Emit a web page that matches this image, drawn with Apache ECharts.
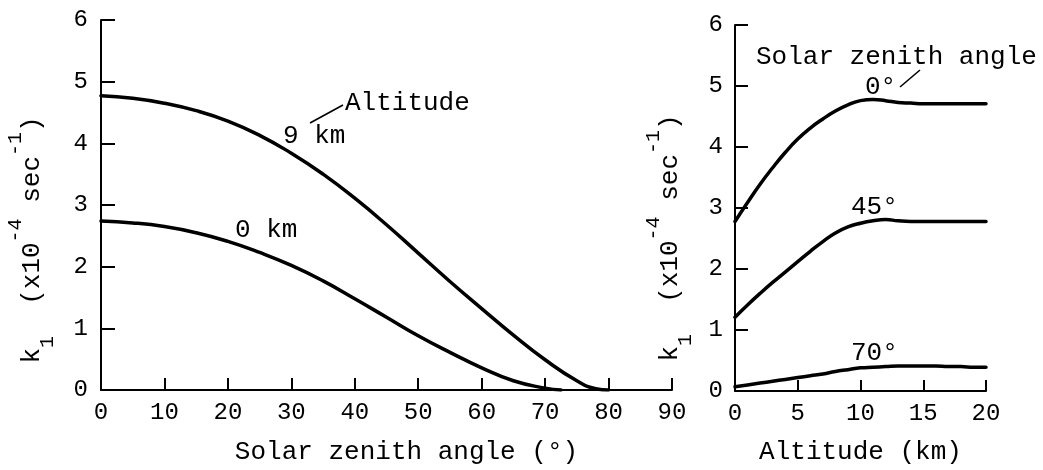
<!DOCTYPE html>
<html>
<head>
<meta charset="utf-8">
<script src="https://cdn.jsdelivr.net/npm/echarts@6/dist/echarts.min.js"></script>
<style>
  html, body { margin: 0; padding: 0; background: #fff; }
  #chart { width: 1043px; height: 470px; }
</style>
</head>
<body>
<div id="chart"></div>
<script>
// Photolysis rate k1 versus solar zenith angle (left) and versus altitude (right)

// Left panel: solar zenith angle (deg) and k1 (x10^-4 s^-1)
const zenithAngles9km = [0, 5, 10, 15, 20, 25, 30, 35, 40, 45, 50, 55, 60, 65, 70, 75, 78, 80];
const k1At9km = [4.77, 4.73, 4.65, 4.53, 4.36, 4.13, 3.84, 3.50, 3.11, 2.68, 2.22, 1.76, 1.32, 0.89, 0.49, 0.15, 0.02, 0.0];
const zenithAngles0km = [0, 5, 10, 15, 20, 25, 30, 35, 40, 45, 50, 55, 60, 65, 70, 72.5];
const k1At0km = [2.74, 2.71, 2.65, 2.55, 2.41, 2.23, 2.02, 1.77, 1.48, 1.18, 0.88, 0.61, 0.36, 0.15, 0.03, 0.0];

// Right panel: altitude (km) and k1 for three zenith angles
const altitudesKm = [0, 1, 2, 3, 4, 5, 6, 7, 8, 9, 10, 11, 12, 13, 14, 15, 16, 17, 18, 19, 20];
const k1Zenith0 = [2.78, 3.09, 3.39, 3.66, 3.91, 4.13, 4.31, 4.46, 4.59, 4.69, 4.76, 4.78, 4.76, 4.73, 4.72, 4.71, 4.71, 4.71, 4.71, 4.71, 4.71];
const k1Zenith45 = [1.21, 1.41, 1.60, 1.78, 1.95, 2.12, 2.29, 2.45, 2.59, 2.69, 2.75, 2.79, 2.81, 2.79, 2.78, 2.78, 2.78, 2.78, 2.78, 2.78, 2.78];
const k1Zenith70 = [0.07, 0.10, 0.13, 0.16, 0.19, 0.22, 0.25, 0.28, 0.32, 0.35, 0.38, 0.39, 0.40, 0.41, 0.41, 0.41, 0.41, 0.40, 0.40, 0.39, 0.39];

// Axis ranges
const zenithAxis = { min: 0, max: 90, step: 10 };
const altitudeAxis = { min: 0, max: 20, step: 5 };
const k1Axis = { min: 0, max: 6, step: 1 };

const FONT = '"Liberation Mono", "DejaVu Sans Mono", monospace';
const INK = '#000';

const zip = (xs, ys) => xs.map((x, i) => [x, ys[i]]);

function valueAxis(range, gridIndex, tickLen, labelMargin, extra) {
  return Object.assign({
    type: 'value',
    gridIndex: gridIndex,
    min: range.min,
    max: range.max,
    interval: range.step,
    axisLine: { show: true, lineStyle: { color: INK, width: 2 } },
    axisTick: { show: true, inside: true, length: tickLen, lineStyle: { color: INK, width: 2 } },
    axisLabel: { margin: labelMargin, color: INK, fontSize: 24, fontFamily: FONT },
    splitLine: { show: false }
  }, extra || {});
}

function curve(data, gridIndex) {
  return {
    type: 'line',
    xAxisIndex: gridIndex,
    yAxisIndex: gridIndex,
    data: data,
    showSymbol: false,
    smooth: 0.5,
    lineStyle: { color: INK, width: 3.5, cap: 'round', join: 'round' },
    silent: true
  };
}

function note(text, x, y) {
  return {
    type: 'text', x: x, y: y, silent: true,
    style: { text: text, font: '26px ' + FONT, fill: INK, align: 'left', verticalAlign: 'middle' }
  };
}

function leader(x1, y1, x2, y2) {
  return {
    type: 'line', silent: true,
    shape: { x1: x1, y1: y1, x2: x2, y2: y2 },
    style: { stroke: INK, lineWidth: 1.6 }
  };
}

// k1 (x10^-4 sec^-1) written with subscript and superscripts
const k1Rich = {
  m: { fontSize: 26, fontFamily: FONT, color: INK, lineHeight: 52 },
  sub: { fontSize: 20, fontFamily: FONT, color: INK, lineHeight: 22, verticalAlign: 'bottom' },
  sup: { fontSize: 20, fontFamily: FONT, color: INK, lineHeight: 22, verticalAlign: 'top' }
};
const k1Title = '{m|k}{sub|1}{m|  (x10}{sup|-4}{m| sec}{sup|-1}{m|)}';

function yTitle(x, y) {
  return {
    type: 'text', x: x, y: y, rotation: Math.PI / 2, silent: true,
    style: { text: k1Title, rich: k1Rich, fill: INK, align: 'center', verticalAlign: 'middle' }
  };
}

const chart = echarts.init(document.getElementById('chart'), null, { renderer: 'canvas' });

chart.setOption({
  backgroundColor: '#fff',
  animation: false,
  grid: [
    { left: 101, right: 371, top: 20, bottom: 76 },
    { left: 735, right: 57, top: 25, bottom: 72 }
  ],
  xAxis: [
    valueAxis(zenithAxis, 0, 12, 11, {
      name: 'Solar zenith angle (°)',
      nameLocation: 'middle',
      nameGap: 49,
      nameTextStyle: { color: INK, fontSize: 26, fontFamily: FONT, padding: [0, 0, 0, 40] }
    }),
    valueAxis(altitudeAxis, 1, 11, 11, {
      name: 'Altitude (km)',
      nameLocation: 'middle',
      nameGap: 48,
      nameTextStyle: { color: INK, fontSize: 26, fontFamily: FONT }
    })
  ],
  yAxis: [
    valueAxis(k1Axis, 0, 14, 13),
    valueAxis(k1Axis, 1, 13, 12)
  ],
  series: [
    curve(zip(zenithAngles9km, k1At9km), 0),
    curve(zip(zenithAngles0km, k1At0km), 0),
    curve(zip(altitudesKm, k1Zenith0), 1),
    curve(zip(altitudesKm, k1Zenith45), 1),
    curve(zip(altitudesKm, k1Zenith70), 1)
  ],
  graphic: [
    yTitle(32, 240),
    yTitle(670, 238),
    note('Altitude', 345, 103),
    leader(310, 123, 343, 105),
    note('9 km', 283, 136),
    note('0 km', 235, 230),
    note('Solar zenith angle', 756, 57),
    note('0°', 865, 87),
    leader(900, 87, 920, 70),
    note('45°', 851, 207),
    note('70°', 851, 353)
  ]
});
</script>
</body>
</html>
